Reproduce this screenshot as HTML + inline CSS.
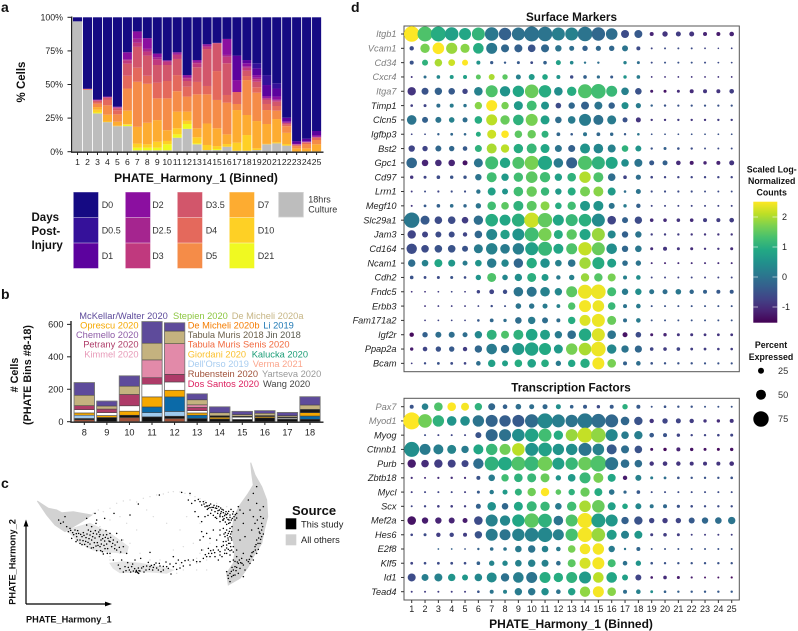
<!DOCTYPE html>
<html lang="en">
<head>
<meta charset="utf-8">
<title>Multi-panel single-cell figure</title>
<style>
html,body{margin:0;padding:0;background:#fff;width:798px;height:631px;overflow:hidden}
svg{display:block;font-family:"Liberation Sans",sans-serif}
text{fill:#222}
.b{font-weight:bold;fill:#111}
.t{font-size:9px;fill:#333}
.s{font-size:9.3px}
</style>
</head>
<body>
<svg id="fig" xmlns="http://www.w3.org/2000/svg" width="798" height="631" viewBox="0 0 798 631">
<defs><linearGradient id="vir" x1="0" y1="1" x2="0" y2="0"></linearGradient></defs>
<g>
<text class="b" x="1" y="12" font-size="14">a</text>
<text class="b" x="1" y="299" font-size="14">b</text>
<text class="b" x="1" y="488" font-size="14">c</text>
<text class="b" x="351" y="12" font-size="14">d</text>
</g>

<g id="panelA"></g>
<text class="b" transform="translate(25,82) rotate(-90)" text-anchor="middle" font-size="11.5">% Cells</text>
<text class="b" x="196" y="182" text-anchor="middle" font-size="12">PHATE_Harmony_1 (Binned)</text>

<g id="dayLegend"></g>
<g>
<text class="b" x="31.5" y="221" font-size="11.5">Days</text>
<text class="b" x="31.5" y="235" font-size="11.5">Post-</text>
<text class="b" x="31.5" y="249" font-size="11.5">Injury</text>
</g>
<text class="t" x="308.3" y="202.5">18hrs</text>
<text class="t" x="308.3" y="212.5">Culture</text>

<g id="panelB"></g>
<text class="b" transform="translate(18,375) rotate(-90)" text-anchor="middle" font-size="10.8"># Cells</text>
<text class="b" transform="translate(31,375) rotate(-90)" text-anchor="middle" font-size="10.8">(PHATE Bins #8-18)</text>

<g>
<text class="s" x="79.3" y="319" style="fill:#5e4b9b">McKellar/Walter 2020</text>
<text class="s" x="173" y="319" style="fill:#8cc63f">Stepien 2020</text>
<text class="s" x="231.7" y="319" style="fill:#c6b584">De Micheli 2020a</text>
<text class="s" x="138.5" y="328.5" text-anchor="end" style="fill:#f5a800">Oprescu 2020</text>
<text class="s" x="187.7" y="328.5" style="fill:#f57c00">De Micheli 2020b</text>
<text class="s" x="263.3" y="328.5" style="fill:#1f78b4">Li 2019</text>
<text class="s" x="138.5" y="338" text-anchor="end" style="fill:#8e5ba6">Chemello 2020</text>
<text class="s" x="187.7" y="338" style="fill:#6b5f4a">Tabula Muris 2018</text>
<text class="s" x="265.7" y="338" style="fill:#5a5a4e">Jin 2018</text>
<text class="s" x="138.5" y="347.7" text-anchor="end" style="fill:#ae3b68">Petrany 2020</text>
<text class="s" x="187.7" y="347.7" style="fill:#f16a3f">Tabula Muris Senis 2020</text>
<text class="s" x="138.5" y="357.3" text-anchor="end" style="fill:#e79ab8">Kimmel 2020</text>
<text class="s" x="187.7" y="357.3" style="fill:#fbc02d">Giordani 2020</text>
<text class="s" x="251.7" y="357.3" style="fill:#1c9e77">Kalucka 2020</text>
<text class="s" x="187.7" y="367" style="fill:#a8cdf0">Dell'Orso 2019</text>
<text class="s" x="252.7" y="367" style="fill:#fba58c">Verma 2021</text>
<text class="s" x="187.7" y="377" style="fill:#a0523a">Rubenstein 2020</text>
<text class="s" x="262" y="377" style="fill:#999">Yartseva 2020</text>
<text class="s" x="187.7" y="387" style="fill:#dc1c5c">Dos Santos 2020</text>
<text class="s" x="263" y="387" style="fill:#444">Wang 2020</text>
</g>

<g id="panelC"></g>
<g>
<path d="M26 604V524M26 604H107" stroke="#000" stroke-width="1.2" fill="none"/>
<path d="M26 519.5l-2.4 7h4.8zM112 604l-7-2.4v4.8z" fill="#000"/>
<text class="b" transform="translate(15.5,562) rotate(-90)" text-anchor="middle" font-size="9.2">PHATE_Harmony_2</text>
<text class="b" x="26" y="622.5" font-size="9.2">PHATE_Harmony_1</text>
</g>
<g>
<text class="b" x="292" y="515" font-size="13">Source</text>
<rect x="285.7" y="518.3" width="10.6" height="11" fill="#000"/>
<text x="301" y="527.5" font-size="9.3" fill="#222">This study</text>
<rect x="285.7" y="534.3" width="10.6" height="11" fill="#cfcfcf"/>
<text x="301" y="542.8" font-size="9.3" fill="#222">All others</text>
</g>

<text class="b" x="571.5" y="21" text-anchor="middle" font-size="11.7">Surface Markers</text>
<text class="b" x="571" y="391.5" text-anchor="middle" font-size="11.7">Transcription Factors</text>
<g id="panelD"></g>
<text class="b" x="571" y="628" text-anchor="middle" font-size="12">PHATE_Harmony_1 (Binned)</text>

<g>
<text class="b" x="771.7" y="172.5" text-anchor="middle" font-size="8.8">Scaled Log-</text>
<text class="b" x="771.7" y="184" text-anchor="middle" font-size="8.8">Normalized</text>
<text class="b" x="771.7" y="195.3" text-anchor="middle" font-size="8.8">Counts</text>
<rect x="753.3" y="201.7" width="24" height="121" fill="url(#vir)"/>
<g id="cbTicks"></g>
</g>
<g id="sizeLegend">
<text class="b" x="771" y="348" text-anchor="middle" font-size="8.8">Percent</text>
<text class="b" x="771" y="360" text-anchor="middle" font-size="8.8">Expressed</text>
</g>
</svg>

<script>
// ---------- Panel a data (percent of cells, bottom to top; D0 fills remainder) ----------
const binLabels = [1,2,3,4,5,6,7,8,9,10,11,12,13,14,15,16,17,18,19,20,21,22,23,24,25];
const percentTicks = [0,25,50,75,100];
const dayOrder = ['18hrs','D21','D10','D7','D5','D4','D3.5','D3','D2.5','D2','D1','D0.5'];
const dayColors = ['#bdbdbd','#f0f921','#fed025','#fdac31','#f58c48','#e4695c','#d2566b','#c0397e','#a5258f','#8b0fa0','#5c029e','#35119a'];
const d0Color = '#150a83';
const binShares = [
[97],
[46,0,0,0,.3,.3,0,0,0,.3],
[28.5,.7,2,2,2.5,1.3,.8,.5,.2,.3],
[22,0,.5,5,7,4,1.5,.5,.2,.3],
[19,0,.3,3,5.5,3,1.5,.5,.3,.4],
[19,1,.5,10,16.5,9.5,9,2.5,.7,5.3],
[1,2,3,12.5,33.5,10.5,15.5,3,3,5.5],
[1,2,2.5,16,29,6,15,3,2,8],
[1,2,4.4,16.1,16.2,11.7,13.1,4.2,1.5,2.8],
[1,4.5,2.5,8,23.7,12.9,11.9,2.5,.5,.5],
[10.4,2.5,4.5,12.4,15.2,12,12,3,1,1],
[17,3.6,2.4,6.8,11.2,7.4,4.2,2,1,1.4],
[5.5,.7,4.5,6.7,25.3,9.2,10.9,3,1,1.4],
[1.2,0,3.8,16,21.7,6.2,27.5,1.6,1,1],
[1.2,.8,2.2,13.2,21.1,21.5,20.6,.2,0,.2],
[3.7,0,2,7.2,23.6,5.7,23.6,4.9,1.3,11.9],
[.7,0,6,24.3,4.5,8.9,0,0,0,8.9,18.2,0],
[.7,0,11.7,14.9,26,3,4,2.2,1,2.3,2.4,0],
[1.2,0,1.3,20.3,21.1,4,4.1,2,1,2,5,3.8],
[5.5,0,.3,14.8,10.4,4.5,3,1,.5,1.4,8.2,7.4],
[6.2,0,.8,17.3,6.2,3.5,3.2,1,.5,2.3,6,3.9],
[4.5,0,1.2,8.3,5,1,1,.5,.2,.9,2.7,0],
[0,0,.2,2.3,1.7,.5,.5,.2,.1,.6,1.8,0],
[0,0,.3,2.2,3.2,1,.3,.2,.1,.4,2,0],
[0,0,.3,5.2,3.2,1.5,.5,.2,.2,1.3,3,0]
];
const legendColumns = [['D0','D0.5','D1'],['D2','D2.5','D3'],['D3.5','D4','D5'],['D7','D10','D21']];
const legendColors = [['#150a83','#35119a','#5c029e'],['#8b0fa0','#a5258f','#c0397e'],['#d2566b','#e4695c','#f58c48'],['#fdac31','#fed025','#f0f921']];

// ---------- Panel b data (cell counts per bin, bottom to top) ----------
const countBins = [8,9,10,11,12,13,14,15,16,17,18];
const countTicks = [0,200,400,600];
const rubensteinCounts = [12,0,26,0,20,0,0,0,0,0,0];
const wangCounts = [8,26,14,30,14,20,17,14,24,16,15];
const dellOrsoCounts = [20,0,0,26,29,0,0,0,0,0,0];
const liCounts = [0,0,0,35,90,20,0,0,0,0,20];
const oprescuCounts = [14,12,25,62,41,14,10,0,8,0,21];
const unlabeledCounts = [20,18,33,78,51,14,0,14,0,7,0];
const jinCounts = [0,0,0,0,0,0,10,6,6,6,20];
const petranyCounts = [25,22,70,40,47,20,0,0,0,0,0];
const kimmelCounts = [0,0,0,110,189,16,0,0,0,0,0];
const deMicheliCounts = [64,19,51,103,78,31,18,10,14,8,27];
const mckellarCounts = [78,30,64,133,51,37,37,20,16,20,51];
const countSeries = [rubensteinCounts,wangCounts,dellOrsoCounts,liCounts,oprescuCounts,unlabeledCounts,jinCounts,petranyCounts,kimmelCounts,deMicheliCounts,mckellarCounts];
const countColors = ['#a0523a','#111111','#9ecaee','#0b6aa8','#f5a800','#ffffff','#1a1a1a','#ae3b68','#e28aa9','#c4b27f','#5e4b9b'];

// ---------- Panel c data (PHATE coordinates as x,y pairs) ----------
const othersSolid = [
[11.2,-15.3,14.5,-17.5,17,-18,18.5,-18.8,22,-18.5,27.5,-19.5,24.5,-21.5,22,-23,19.5,-24.5,16.5,-22.5,14,-19.5],
[75.2,-3.8,76.5,-7.5,78.5,-11,80,-15,80.3,-20,79.3,-24,78.5,-28,76,-32,74.5,-35,72,-38.5,68.5,-40.5,68,-37,70,-34,70.5,-30,69.5,-25,70.2,-20,72,-16.5,74.5,-13,76,-10.5,75.5,-7]
];
const othersFaint = [
[20,-24,27,-22,33,-25,38.5,-29,38,-31,32,-30.5,28,-30,24,-28],
[33,-34,37,-33.5,42,-34,48,-35,52,-36,50,-37,44,-36.5,36,-36.8,34,-35.5]
];
const othersPoints = [28,-19,29.5,-18,31,-18.5,33,-17.5,35,-16,37,-15.3,39,-15,41,-15.6,43,-14.5,45,-14,47,-13.5,49,-13.2,50.5,-12.7,52,-12.5,54,-12.6,55.5,-13,57,-13.5,58.5,-14,60,-14.6,61.5,-15.2,30,-23,33,-21,36,-20,38,-22,41,-24,37,-27,39,-28,42,-31,45,-33,48,-33,51,-34,54,-34.5,57,-33.5,59,-32.5,60,-31,61,-30,62,-33,59,-34,55,-36,53,-37,62,-36,59,-36,36,-31,33,-32,31,-31,33,-33,54,-24,50,-22,46,-20,44,-18,56,-20,60,-22,62,-25,55,-29,52,-30,58,-28,63,-28,65,-20,65,-16,68,-17];
const studyPoints = [
17.6,-21,18.2,-22,19,-21.6,20,-23,21,-23.5,20.5,-24.5,21.8,-24.8,22.5,-24,23,-26,23.6,-25,24.6,-26,25,-24.8,25.8,-26.3,26.5,-24,27,-25.5,27.5,-27,28,-25,28.5,-26.4,29.2,-27.8,29.8,-26,30.3,-27,31,-25.5,31.4,-27.3,32,-28.2,32.4,-26.5,33,-27.5,33.5,-29,34,-27,34.5,-28.5,35,-30,24,-28,25.4,-28.3,26.2,-29,27,-28.2,28,-29.3,29,-30.2,30,-29,30.7,-30.5,31.5,-29.6,32.2,-31,33,-31,26,-22.5,27.5,-23,28.8,-22,30,-24,31.8,-24.2,33,-25,35,-25,36.5,-27,37,-29,21.5,-26.5,22.8,-27.5,24,-27,19.5,-20,26,-20.5,29,-21,
34,-33,35.5,-34.5,36.5,-33,37,-36.6,37.5,-35,38.3,-33.8,38.8,-36,39.5,-35,40,-36.3,40.5,-33,41,-36.5,41.5,-35.4,42,-36.3,42.2,-32.5,43,-35,43.8,-36,44.5,-33.7,45,-35,45.8,-36,46.3,-34.4,47,-35.4,47.8,-34,48.3,-36.5,49,-34.9,49.8,-33.6,50.5,-35.5,51.3,-37.2,52,-35,52.8,-34,53.5,-33,54,-35.4,55,-34.8,55.5,-33.2,56.5,-33,57,-34.5,58,-33,59,-33.5,60,-33.5,40.7,-36.6,41.3,-36.8,41.7,-36.2,38,-31,45,-30.7,52,-32,
47.8,-13.5,54.5,-12.7,57,-13,41.5,-16.2,39,-19.5,31.4,-20.5,34.2,-19,28.5,-19,
56.5,-15,57.5,-16,58.5,-15.2,59.5,-14.8,60,-15.5,60.5,-16.5,61,-15.5,61.5,-17,62,-16.8,62.5,-17.5,62.3,-16.8,63,-17.3,63.5,-18,64,-17.2,64.5,-18.5,65,-17.5,65.3,-19,65.8,-18,66,-19.5,66.4,-18.5,66.8,-20,67,-18.8,67.4,-19.7,67.8,-18.5,68,-20.3,68.3,-19,68.7,-21,69,-19.5,69.3,-17.8,69.7,-20.5,70,-18.5,70.5,-21,71,-19,71.5,-17,72,-18,65,-20.5,66,-21.5,67,-21,68,-22.3,69,-21.8,58.5,-18.5,59.5,-20,60.5,-21.5,61.5,-20,
67,-23.5,68,-24,68.5,-25,69,-23.5,69.5,-24.5,67.5,-26,68.5,-27,69,-26,67,-27.5,68,-28.5,69,-28,69.5,-27,66.5,-29,67.5,-30,68.5,-29.8,69.5,-30,70,-29,68,-31,69,-31.5,66,-30.5,65,-29,64,-30,63.5,-31,62.5,-29.5,62,-32,63,-32,64.5,-32,65.5,-33,66,-31.5,61,-32.5,60.5,-30,60,-27,61,-26,62,-25,63,-26.5,60.5,-24.5,65,-27,66,-25.5,66,-24,64,-24,
75,-18,76,-20,77,-16,78,-18,79,-17,76.5,-22,77.5,-23.5,78.5,-22,79,-20.5,75.5,-24,78,-25,78.5,-26,77,-27,78,-28,76.5,-29,77.5,-29.8,76,-30.5,77,-31,75.5,-32,76,-33,74.5,-33.5,73,-22,73.5,-26,73,-19,74.5,-15,76,-13,77,-11,71.5,-24,72,-27,71,-30,73,-31,78.5,-24,
71,-32,71.8,-33,72.5,-32.5,71.5,-34,70.5,-35,72,-35.5,73,-34.5,70,-36,69,-37,68,-36.5,69.5,-38,70.5,-37.5,71.5,-37,69,-39.5,68.5,-38.5,73.5,-36,73,-38,70,-33,69,-33.5
];
const studyPointsDense = [
21.2,-24.1,22.1,-25.4,22.9,-25.1,23.3,-24.2,24.2,-25.3,24.9,-27.2,25.2,-25.6,25.7,-27.4,26.1,-25.2,26.7,-26.6,27.2,-24.4,27.8,-26,28.3,-27.8,28.6,-24.2,29,-25.2,29.4,-28.6,29.6,-24.6,30,-25.4,30.4,-28.2,30.8,-26.6,31.2,-28.6,31.6,-26.2,32,-25.4,32.3,-29.6,32.7,-27.3,33.2,-26.2,33.8,-28,34.4,-29.6,35.2,-27.6,35.8,-29.2,36.2,-30.6,23.2,-27,24.6,-28.4,26.4,-27.7,27.4,-29.4,28.8,-28.8,30.2,-30.2,31,-31.2,
36,-35.6,37.8,-36.2,38.5,-35.2,39.2,-36.6,39.8,-34.2,40.4,-35.6,40.9,-36.1,41.6,-37,42.5,-35.4,43.2,-36.6,44,-34.8,44.8,-35.8,45.4,-34.6,46,-35.2,46.8,-33.9,47.5,-36,48,-34.8,49,-36,50,-35,51,-34.2,53,-35.8,54.5,-33.8,
61.2,-16.2,61.8,-15.8,62.2,-17.8,62.8,-16.6,63.2,-16.2,63.6,-17.2,64.2,-16.6,64.6,-17.4,65,-16.8,65.4,-18.2,65.6,-17,66.2,-17.4,66.2,-19,66.6,-17.8,67,-18,67.2,-20.6,67.6,-19.2,68,-19.4,68.4,-20.8,68.6,-18.4,69,-20.2,69.4,-21,69.8,-19.2,70.2,-20,70.6,-19.4,71,-20.4,66,-20,66.8,-21,67.6,-21.6,68.6,-22,69.6,-23,64,-19.6,64.6,-20.2,63.2,-19,62.4,-19.6,
67.6,-24.8,68.2,-25.6,68.8,-24.4,69.2,-25.2,67.2,-25.2,68.4,-26.4,69.4,-26.4,67.8,-27.4,68.6,-28,69.2,-29,67,-28.6,68,-29.4,69,-30.2,70,-30.6,67.4,-31,66.6,-32,65.5,-30,64.4,-30.8,63.2,-30.2,62.6,-31,61.6,-31.4,
77.2,-21,78.2,-20,78.8,-23,77.8,-24.6,77.6,-26.4,77.4,-28,76.8,-28.4,76.6,-30,75.6,-30.8,75.2,-31.8,74.8,-32.8,75,-34,74,-33,78.2,-26.8,79,-25.2,
70.5,-33.4,71.2,-33.6,72.2,-33.8,70.8,-36.2,71,-35.2,72.6,-34,69.6,-35.2,70,-37.6,68.4,-37.6,69.4,-36.4
];

// ---------- Panel d data ----------
const surfaceGenes = ['Itgb1','Vcam1','Cd34','Cxcr4','Itga7','Timp1','Clcn5','Igfbp3','Bst2','Gpc1','Cd97','Lrrn1','Megf10','Slc29a1','Jam3','Cd164','Ncam1','Cdh2','Fndc5','Erbb3','Fam171a2','Igf2r','Ppap2a','Bcam'];
const factorGenes = ['Pax7','Myod1','Myog','Ctnnb1','Purb','Zbtb18','Mycl','Scx','Mef2a','Hes6','E2f8','Klf5','Id1','Tead4'];
const greyGenes = ['Itgb1','Vcam1','Cd34','Cxcr4','Itga7','Pax7','Myod1'];
const scaleTicks = [-1,0,1,2];
const sizeKeys = [25,50,75];
const surfacePercent = [
[77,75,75,68,60,65,68,62,65,75,72,65,65,73,67,58,40,40,20,27,25,25,20,20,23],
[22,47,58,56,46,53,55,40,40,38,40,32,25,27,26,27,30,20,10,10,10,10,9,8,9],
[20,30,38,34,30,20,16,12,15,14,18,25,18,12,12,0,17,15,10,10,10,10,10,9,9],
[10,15,18,20,20,25,30,27,25,30,28,20,17,18,16,15,17,18,9,9,9,9,9,9,9],
[42,35,37,33,27,43,60,52,57,68,62,43,47,70,73,55,38,33,15,15,15,20,20,20,23],
[13,15,20,20,17,37,55,37,45,50,40,28,32,40,40,32,35,26,12,12,11,11,11,11,11],
[48,30,30,28,25,38,55,47,53,60,45,33,38,60,50,45,25,25,12,12,12,12,12,12,12],
[9,9,12,14,13,25,45,38,38,42,35,19,13,20,19,17,12,13,9,9,9,9,9,9,9],
[32,27,30,27,23,35,50,42,47,50,45,35,35,50,48,40,33,30,12,15,13,12,10,10,10],
[53,33,33,33,25,45,65,52,60,70,70,48,55,70,65,60,38,40,25,25,23,20,17,20,25],
[17,15,18,17,17,32,50,37,47,58,52,37,43,57,50,38,18,26,13,12,12,12,12,12,12],
[10,10,11,11,11,22,40,30,48,52,42,32,40,50,50,40,13,25,11,11,11,11,10,10,10],
[10,14,18,18,17,27,43,38,50,50,45,33,42,50,50,30,17,22,10,10,10,10,10,10,10],
[77,45,38,38,33,47,63,55,65,75,72,55,60,63,65,43,30,37,18,18,18,18,20,20,23],
[42,30,30,30,22,38,55,47,60,70,65,45,52,55,65,40,32,32,12,12,12,12,12,12,12],
[52,38,38,38,30,45,57,48,57,65,70,50,55,67,65,53,32,33,15,20,15,15,12,12,15],
[37,33,40,35,25,33,47,37,47,52,47,33,38,57,60,45,28,27,10,10,10,10,10,10,10],
[18,14,15,15,13,27,45,28,37,45,35,22,27,42,42,40,20,23,10,10,10,10,10,10,10],
[9,9,9,9,9,17,24,22,48,50,48,37,55,70,73,45,32,32,25,25,28,22,20,20,20],
[0,9,9,9,9,9,12,10,28,27,25,19,37,60,58,38,20,23,10,10,10,10,10,10,10],
[0,9,9,9,9,13,19,17,33,37,30,20,37,55,65,45,20,23,10,10,10,10,10,10,10],
[22,27,30,30,25,37,50,40,50,58,50,37,43,62,65,43,25,28,15,17,15,15,14,14,14],
[17,23,27,27,22,37,53,42,60,67,60,45,57,63,73,47,37,36,18,18,18,14,14,13,13],
[9,12,14,14,13,23,37,30,38,43,38,27,37,47,60,43,20,23,13,12,12,12,11,11,11]
];
const surfaceScaled = [
[2.4,1.3,.9,.7,.8,1.05,.05,-.3,-.05,-.05,0,.15,.2,0,-.2,-.1,-.6,-.4,-1.1,-.9,-.8,-.9,-1.1,-1.2,-1.1],
[-.6,1.6,2.4,1.8,1.7,.9,.05,-.2,-.3,-.5,-.2,0,-.1,-.3,-.2,-.2,0,-.6,-.7,-.6,-.6,-.6,-.7,-.7,-.7],
[-.5,1,1.9,2.1,2.4,.5,-.4,-.4,-.4,-.6,-.3,.7,.3,0,-.1,0,.2,-.1,-.6,-.5,-.5,-.5,-.6,-.6,-.6],
[-.9,-.1,.3,.6,.7,1.4,1.9,1.4,.2,.6,.8,.5,-.6,-.3,-.1,-.4,.5,.1,-.9,-.9,-.9,-.9,-.9,-.9,-.9],
[-.9,-.5,-.3,-.4,-.7,.2,1.3,.5,.8,1.5,.9,.4,.9,1.3,1.2,1.1,.2,-.5,-1.2,-1.3,-1,-1,-.9,-.9,-.8],
[-.8,-.7,-.1,.1,0,1.7,2.4,1.6,.6,1.2,.5,-.6,-.2,-.3,0,-.3,.4,.1,-.3,-.5,-.5,-.5,-.5,-.5,-.5],
[0,-.3,0,.2,-.1,.9,2,1.5,1,1.6,.7,-.1,.1,.1,-.05,.1,-.5,-.9,-.9,-.9,-.8,-.9,-.9,-.8,-.8],
[-.7,-.6,-.3,-.2,-.2,.9,2.1,2.4,1.4,1.5,1,-.2,-.4,0,-.2,-.2,-.4,0,-.5,-.5,-.5,-.5,-.5,-.5,-.5],
[-.7,-.7,-.2,-.2,-.4,1,1.9,2,.9,1.1,.8,0,-.3,.5,.3,.2,1,.5,-.5,-.3,-.5,-.6,-.6,-.6,-.6],
[-.2,-1.1,-1,-1.1,-1.3,0,1.2,.8,1.3,1.6,.8,.1,-.3,1.3,1,.8,.4,0,-.4,-.3,-1,-1.2,-1.1,-1.1,-.9],
[-.9,-.7,-.6,-.5,-.5,0,1.2,.6,1.2,1.4,1.2,.7,1,1.95,1.3,-.1,-.7,-.1,-.7,-.7,-.7,-.7,-.7,-.7,-.7],
[-.8,-.6,-.7,-.6,-.6,0,.7,.5,1.2,1.5,1.1,.6,.9,1.6,1.7,.6,-.1,0,-.6,-.6,-.6,-.6,-.6,-.6,-.6],
[-.9,-.4,-.3,-.1,-.2,0,1.2,1.4,1,1.4,1.7,.9,1.2,.6,.5,0,.1,-.3,-.7,-.7,-.7,-.7,-.7,-.7,-.7],
[.05,-.4,-.6,-.6,-.8,-.1,.9,.8,.95,2.1,1.45,.8,1.1,.95,.35,-.7,-.3,-.6,-1,-1,-.9,-1,-.8,-.8,-.8],
[-.7,-.7,-.6,-.6,-.7,-.2,.3,.7,.5,1.2,1.6,.9,1.4,.8,1.8,.3,-.3,0,-.8,-.8,-.8,-.9,-.9,-.9,-.9],
[-.6,-.6,-.5,-.5,-.5,.1,.2,.1,.15,.7,1.1,.8,1.3,2.05,1.5,.4,-.2,.05,-1,-.9,-.9,-1,-.9,-.9,-1],
[-.1,.2,.8,.55,.1,.5,.1,.3,-.2,.9,.45,.2,0,1.85,.9,.7,-.1,0,-1,-1.1,-1,-1,-1,-1,-1],
[-.5,-.6,-.6,-.5,-.6,.5,1.3,.3,.4,.95,.6,.1,.2,1.8,1.35,1.6,.2,.4,-.7,-.7,-.7,-.7,-.7,-.7,-.7],
[-.9,-.9,-.8,-.7,-.8,-.7,-.7,-.6,0,0,.2,.3,1.4,2.3,2.3,1.2,.1,.4,0,-.1,.05,-.2,-.3,-.4,-.4],
[0,-.9,-.8,-.8,-.8,-.7,-.6,-.6,0,0,.1,.2,1.3,2.35,2.3,1.1,0,.1,-.5,-.5,-.5,-.5,-.5,-.5,-.5],
[0,-.8,-.7,-.7,-.7,-.4,-.2,-.1,-.1,.1,-.1,-.1,.9,2.2,2.3,1.5,-.1,.1,-.5,-.5,-.5,-.5,-.5,-.5,-.5],
[-1.4,-.3,-.1,-.1,-.1,.3,1,1.3,1,.8,.7,.1,-.1,.85,2.2,0,-1.3,-.6,-1.2,-1.1,-.9,-.9,-.9,-.9,-.9],
[-1.2,-.7,-.5,-.4,-.8,-.2,.1,-.1,.6,.75,.85,.6,1.6,1.9,2.3,.3,0,-.2,-.7,-.8,-.7,-.8,-.8,-.8,-.8],
[-.8,-.6,-.5,-.6,-.7,-.1,.7,.7,.9,.75,.9,.1,.8,.9,2.35,1.6,-.3,-.1,-.5,-.5,-.5,-.5,-.5,-.5,-.5]
];
const factorPercent = [
[20,33,43,43,40,37,35,23,28,25,25,25,18,20,17,20,27,20,10,13,12,12,10,10,10],
[85,68,57,48,48,57,60,57,60,67,75,65,62,75,70,65,43,42,22,27,25,22,17,17,20],
[0,10,10,10,10,30,60,60,63,67,65,47,60,75,73,60,38,42,23,20,17,12,12,13,15],
[75,55,50,45,37,50,57,55,63,65,68,57,57,65,58,50,40,38,15,17,20,17,15,15,17],
[42,38,42,40,35,52,70,68,70,72,73,60,62,68,80,65,43,38,22,23,22,20,20,20,23],
[11,10,11,12,11,20,33,37,43,45,45,27,38,55,50,40,22,30,15,14,13,12,12,12,13],
[10,10,10,10,10,15,22,25,35,42,42,28,32,46,40,28,16,18,10,10,10,10,10,10,10],
[10,12,13,13,12,25,43,33,45,50,47,33,47,58,63,40,28,30,20,20,16,13,12,12,12],
[43,32,32,30,25,43,60,52,62,72,68,48,60,75,70,60,37,42,27,27,27,30,32,33,37],
[13,15,22,22,20,37,60,55,62,68,73,55,62,73,68,50,40,40,15,18,15,10,10,10,10],
[0,0,9,9,9,12,18,18,33,37,33,23,38,53,57,32,12,20,10,10,10,10,10,10,10],
[14,13,14,14,13,18,27,27,33,37,35,23,40,55,60,40,23,27,13,12,12,12,12,12,12],
[40,35,40,37,30,38,50,42,53,55,55,47,55,60,53,53,30,30,13,18,15,11,10,10,11],
[10,10,10,10,10,13,20,20,37,37,37,23,37,52,55,43,20,23,14,13,12,12,12,12,12]
];
const factorScaled = [
[-.5,.2,1.3,2.4,2.35,1,-.2,-.3,-.1,-.1,-.2,.4,-.3,-.4,-.6,-.4,.95,-.4,-.5,-.5,-.5,-.5,-.5,-.5,-.5],
[2.4,1.55,1,.5,.4,0,-.25,-.35,-.4,-.15,.3,.15,0,.05,-.1,-.2,-.2,-.5,-.9,-.7,-.7,-.8,-.9,-1,-.9],
[0,-.6,-.7,-.7,-.7,-.5,-.2,-.05,.4,.75,1.2,.9,1.8,2.05,1.75,.3,.1,.15,-.4,-.5,-.7,-.7,-.7,-.7,-.7],
[.4,.1,.15,.25,.1,.8,1.1,1.55,2,.5,.7,.5,.4,0,.2,-.4,-.1,-.5,-1.3,-1.4,-1.1,-1.3,-1.3,-1.4,-1.3],
[-1.2,-1,-.8,-.75,-.7,-.1,1,.85,1.3,1.1,1.55,.7,1.1,1.5,1.3,0,-.1,-.1,-.9,-.9,-.9,-.9,-.9,-.9,-.95],
[-1,-1,-1,-1,-1,-.5,.1,1.2,1,1.1,1.5,.5,.6,1.1,1.6,.8,-1.2,.2,.1,-.1,-.5,-.5,-.5,-.5,-.5],
[-.8,-.7,-.7,-.7,-.8,-.4,.1,.6,1,1.55,2.4,1.4,1,1.5,.9,0,-.2,-.4,-.6,-.6,-.6,-.6,-.6,-.6,-.6],
[-.7,-.7,-.8,-.8,-.8,-.3,.45,-.2,.8,1.1,1.1,.1,1.2,1.9,1.5,.7,.8,.3,0,-.2,-.5,-.6,-.6,-.6,-.6],
[-1.3,-1.2,-1.1,-1.1,-1.2,-.6,.2,.3,.8,1.4,1,0,1.3,2.35,.65,.55,-.3,-.5,-.7,-.8,-.7,-.4,-.2,-.1,0],
[-.7,-.6,-.8,-.7,-.8,-.5,.1,0,.2,.2,.3,.2,1.25,2.35,1.8,.65,.2,.55,-.8,-.8,-.8,-.8,-.8,-.8,-.8],
[0,0,-.3,-.3,-.5,-.3,-.1,0,.1,0,.2,.1,1.6,2.35,2.35,.1,0,-.2,-.5,-.5,-.5,-.5,-.5,-.5,-.5],
[-.7,-.6,-.6,-.6,-.6,-.3,.25,.3,.2,.2,.2,-.1,1.4,2.15,2.35,1.2,-.05,.5,-.5,-.5,-.5,-.5,-.5,-.5,-.5],
[-.6,.15,.2,.5,.55,.3,.35,-.05,.15,0,.9,.9,1,.6,2,.8,.7,-.7,-1.2,-1,-1.2,-1.2,-1.3,-1.3,-1.4],
[-.8,-.8,-.8,-.8,-.8,-.5,0,.2,.1,.05,.4,0,.7,1.75,2.35,1.7,-.1,.2,.4,-.3,-.3,-.4,-.4,-.4,-.4]
];
const viridisStops = ['#440154','#482475','#414487','#355f8d','#2a788e','#21918c','#22a884','#44bf70','#7ad151','#bddf26','#fde725'];

// ---------- Helpers and axis functions ----------
const NS = 'http://www.w3.org/2000/svg';
function mk(tag, parent, attrs) {
  const el = document.createElementNS(NS, tag);
  for (const k in attrs) el.setAttribute(k, attrs[k]);
  parent.appendChild(el);
  return el;
}
const $ = id => document.getElementById(id);

const ax = i => 72.6 + 9.96 * i;
const ay = p => 151.7 - 1.344 * p;
const bx = b => 84.3 + 22.57 * (b - 8);
const by = c => 421.7 - 0.1622 * c;
const phateX = v => v * 10 / 3;
const phateY = v => 450 - v * 10 / 3;
const dotX = i => 411.7 + 13.333 * i;
const dotRadius = p => p / 10;
const cbY = v => 277 - 30 * v;

function hex2(c) { return [1, 3, 5].map(i => parseInt(c.substr(i, 2), 16)); }
function viridis(v) {
  const t = Math.max(0, Math.min(1, (v + 1.5) / 3.9)) * 10;
  const i = Math.min(9, Math.floor(t));
  const f = t - i;
  const a = hex2(viridisStops[i]);
  const b = hex2(viridisStops[i + 1]);
  return 'rgb(' + a.map((x, k) => Math.round(x + (b[k] - x) * f)).join(',') + ')';
}

// ---------- Panel a ----------
(function () {
  const g = $('panelA');
  binShares.forEach((row, i) => {
    let acc = 0;
    row.forEach((val, s) => {
      if (val <= 0) return;
      const r = mk('rect', g, { x: ax(i) + 0.4, y: ay(acc + val), width: 9.1, height: 1.344 * val, fill: dayColors[s] });
      
      
      acc += val;
    });
    const top = mk('rect', g, { x: ax(i) + 0.4, y: ay(100), width: 9.1, height: 1.344 * (100 - acc), fill: d0Color });
    
    
    const tick = mk('line', g, { x1: ax(i) + 4.95, x2: ax(i) + 4.95, y1: 152, y2: 155, stroke: '#222', 'stroke-width': 1 });
    
    
    const lab = mk('text', g, { x: ax(i) + 4.95, y: 164.8, 'text-anchor': 'middle', 'font-size': 8.6 });
    
    
    lab.textContent = binLabels[i];
  });
  const axes = mk('path', g, { d: 'M71.7 16.5V152.2H323.5', fill: 'none', stroke: '#222', 'stroke-width': 1.4 });
  
  
  percentTicks.forEach(p => {
    const t = mk('line', g, { x1: 67.5, x2: 71.5, y1: ay(p), y2: ay(p), stroke: '#222', 'stroke-width': 1 });
    
    
    const l = mk('text', g, { x: 63, y: ay(p) + 3.1, 'text-anchor': 'end', 'font-size': 8.8 });
    
    
    l.textContent = p + '%';
  });
})();

// ---------- Day legend ----------
(function () {
  const g = $('dayLegend');
  const colX = [73.3, 125.3, 177.3, 229.3];
  legendColumns.forEach((col, c) => {
    col.forEach((name, r) => {
      const y = 192 + r * 25.5;
      const s = mk('rect', g, { x: colX[c] + 0.4, y: y + 0.4, width: 24.4, height: 24.7, fill: legendColors[c][r], stroke: legendColors[c][r], 'stroke-opacity': 0.45, 'stroke-width': 0.8 });
      
      
      const t = mk('text', g, { x: colX[c] + 28.4 - (c === 1 ? 1.5 : 0), y: y + 16, 'font-size': 9, fill: '#333', style: 'fill:#333' });
      
      
      t.textContent = name;
    });
  });
  const grey = mk('rect', g, { x: 278.7, y: 192.4, width: 24.6, height: 24.6, fill: dayColors[0], stroke: '#d0d0d0', 'stroke-width': 0.8 });
  
  
})();

// ---------- Panel b ----------
(function () {
  const g = $('panelB');
  countBins.forEach((bin, i) => {
    let acc = 0;
    countSeries.forEach((series, s) => {
      const val = series[i];
      if (val <= 0) return;
      const r = mk('rect', g, { x: bx(bin) - 10.2, y: by(acc + val), width: 20.4, height: 0.1622 * val, fill: countColors[s], stroke: '#444', 'stroke-width': 0.55 });
      
      
      acc += val;
    });
    const outline = mk('rect', g, { x: bx(bin) - 10.2, y: by(acc), width: 20.4, height: 0.1622 * acc, fill: 'none', stroke: '#777', 'stroke-width': 0.8 });
    
    
    const t = mk('line', g, { x1: bx(bin), x2: bx(bin), y1: 422, y2: 425, stroke: '#222', 'stroke-width': 1 });
    
    
    const l = mk('text', g, { x: bx(bin), y: 435.3, 'text-anchor': 'middle', 'font-size': 9.2 });
    
    
    l.textContent = bin;
  });
  const axes = mk('path', g, { d: 'M71 321V422.2H323.5', fill: 'none', stroke: '#222', 'stroke-width': 1.4 });
  
  
  countTicks.forEach(c => {
    const t = mk('line', g, { x1: 67, x2: 71, y1: by(c), y2: by(c), stroke: '#222', 'stroke-width': 1 });
    
    
    const l = mk('text', g, { x: 63.5, y: by(c) + 3.2, 'text-anchor': 'end', 'font-size': 9.2 });
    
    
    l.textContent = c;
  });
})();

// ---------- Panel c ----------
(function () {
  const g = $('panelC');
  function region(list, color) {
    list.forEach(o => {
      let pts = '';
      for (let i = 0; i < o.length; i += 2) pts += phateX(o[i]).toFixed(1) + ',' + phateY(o[i + 1]).toFixed(1) + ' ';
      const p = mk('polygon', g, { points: pts, fill: color, stroke: color, 'stroke-width': 1 });
      
      
    });
  }
  region(othersFaint, '#e4e4e4');
  region(othersSolid, '#d2d2d2');
  for (let i = 0; i < othersPoints.length; i += 2) {
    const c = mk('circle', g, { cx: phateX(othersPoints[i]), cy: phateY(othersPoints[i + 1]), r: 0.7, fill: '#dcdcdc' });
    
    
  }
  [studyPoints, studyPointsDense].forEach(list => {
    for (let i = 0; i < list.length; i += 2) {
      const c = mk('circle', g, { cx: phateX(list[i]), cy: phateY(list[i + 1]), r: 0.75, fill: '#000' });
      
      
    }
  });
})();

// ---------- Panel d ----------
function dotPanel(genes, pct, scaled, top, bottom, y0, step, withX) {
  const g = $('panelD');
  const box = mk('rect', g, { x: 404, y: top, width: 335.3, height: bottom - top, fill: '#fff', stroke: '#555', 'stroke-width': 1 });
  
  
  genes.forEach((gene, r) => {
    const y = y0 + step * r;
    const t = mk('line', g, { x1: 401, x2: 404, y1: y, y2: y, stroke: '#333', 'stroke-width': 1 });
    
    
    const l = mk('text', g, { x: 396.5, y: y + 3.2, 'text-anchor': 'end', 'font-size': 9.2, 'font-style': 'italic', style: 'fill:' + (greyGenes.includes(gene) ? '#7d7d7d' : '#222') });
    
    
    l.textContent = gene;
    pct[r].forEach((p, c) => {
      if (p <= 0) return;
      const d = mk('circle', g, { cx: dotX(c), cy: y, r: dotRadius(p), fill: viridis(scaled[r][c]) });
      
      
    });
  });
  if (withX) {
    binLabels.forEach((b, c) => {
      const t = mk('line', g, { x1: dotX(c), x2: dotX(c), y1: bottom, y2: bottom + 3, stroke: '#333', 'stroke-width': 1 });
      
      
      const l = mk('text', g, { x: dotX(c), y: bottom + 12.2, 'text-anchor': 'middle', 'font-size': 9 });
      
      
      l.textContent = b;
    });
  }
}
dotPanel(surfaceGenes, surfacePercent, surfaceScaled, 26, 371.7, 34, 14.32, false);
dotPanel(factorGenes, factorPercent, factorScaled, 398.3, 600, 406.7, 14.23, true);

// ---------- Colour bar ----------
(function () {
  const grad = $('vir');
  viridisStops.forEach((c, i) => {
    const st = mk('stop', grad, { offset: (i * 10) + '%', 'stop-color': c });
    
    
  });
  const g = $('cbTicks');
  scaleTicks.forEach(v => {
    const a = mk('line', g, { x1: 753.3, x2: 758, y1: cbY(v), y2: cbY(v), stroke: '#fff', 'stroke-opacity': 0.8, 'stroke-width': 0.7 });
    
    
    const b = mk('line', g, { x1: 772.5, x2: 777.3, y1: cbY(v), y2: cbY(v), stroke: '#fff', 'stroke-opacity': 0.8, 'stroke-width': 0.7 });
    
    
    const l = mk('text', g, { x: 782, y: cbY(v) + 3.2, 'font-size': 9 });
    
    
    l.textContent = v < 0 ? '-' + Math.abs(v) : v;
  });
})();

// ---------- Size legend ----------
(function () {
  const g = $('sizeLegend');
  sizeKeys.forEach((k, i) => {
    const y = 370.7 + [0, 24, 48.3][i];
    const c = mk('circle', g, { cx: 761, cy: y, r: [3, 5, 7.7][i], fill: '#000' });
    
    
    const l = mk('text', g, { x: 778, y: y + 3.2, 'font-size': 9.2, style: 'fill:#333' });
    
    
    l.textContent = k;
  });
})();
</script>
</body>
</html>
